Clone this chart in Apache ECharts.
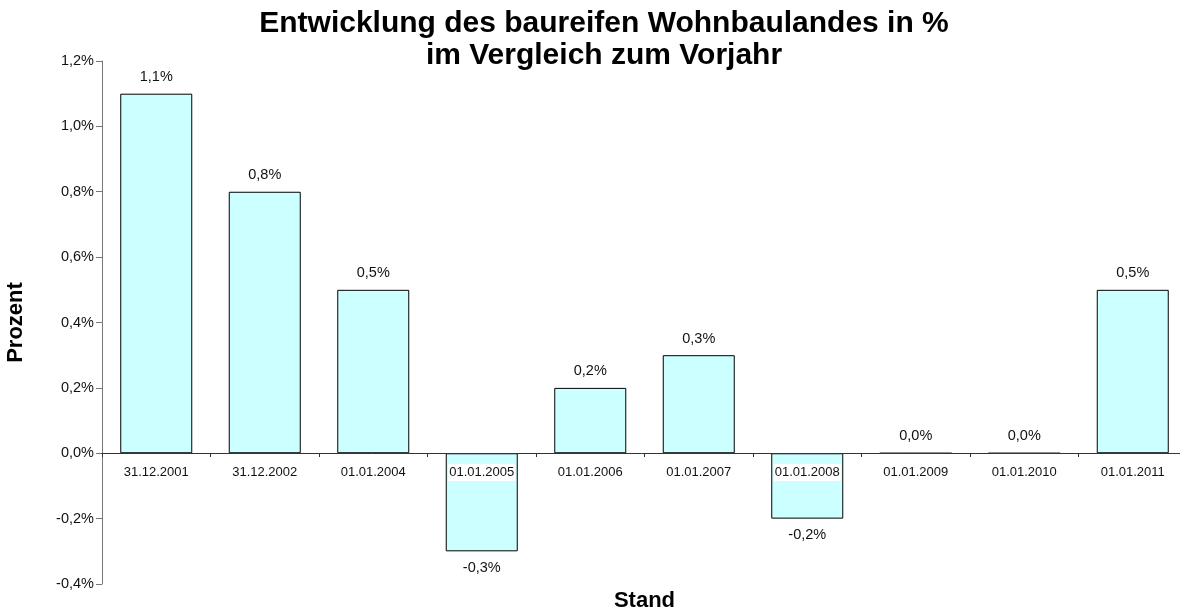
<!DOCTYPE html>
<html>
<head>
<meta charset="utf-8">
<script src="https://cdn.jsdelivr.net/npm/echarts@6/dist/echarts.min.js"></script>
<style>
  html, body { margin: 0; padding: 0; background: #fff; }
  #main { width: 1180px; height: 613px; }
</style>
</head>
<body>
<div id="main"></div>
<script>
var stand = ['31.12.2001', '31.12.2002', '01.01.2004', '01.01.2005', '01.01.2006',
             '01.01.2007', '01.01.2008', '01.01.2009', '01.01.2010', '01.01.2011'];
var prozent = [1.1, 0.8, 0.5, -0.3, 0.2, 0.3, -0.2, 0.0, 0.0, 0.5];

var fontFam = '"Liberation Sans", Arial, Helvetica, sans-serif';

function pct(v) {
    return v.toFixed(1).replace('.', ',') + '%';
}

// labels sit above bars >= 0 and below negative ones
var barData = prozent.map(function (v) {
    return { value: v, label: { position: v < 0 ? 'bottom' : 'top' } };
});

var option = {
    backgroundColor: '#fff',
    animation: false,
    textStyle: { fontFamily: fontFam },
    title: {
        text: 'Entwicklung des baureifen Wohnbaulandes in %\nim Vergleich zum Vorjahr',
        left: 599,
        top: 3,
        textAlign: 'center',
        textStyle: {
            fontFamily: fontFam,
            fontSize: 30,
            fontWeight: 'bold',
            color: '#000',
            lineHeight: 32
        }
    },
    grid: {
        left: 102,
        top: 61,
        bottom: 29,
        width: 1085,
        outerBoundsMode: 'none',
        containLabel: false
    },
    xAxis: {
        type: 'category',
        data: stand,
        z: 5,
        // lift the whole axis (line, labels, name) from the grid bottom to the 0 line
        offset: -131,
        name: 'Stand',
        nameLocation: 'middle',
        nameGap: 137,
        nameTextStyle: { fontFamily: fontFam, fontSize: 22, fontWeight: 'bold', color: '#000' },
        axisLine: { onZero: false, lineStyle: { color: '#333', width: 1 } },
        axisTick: { show: true, length: 4, lineStyle: { color: '#333' } },
        axisLabel: {
            fontSize: 13,
            color: '#111',
            margin: 11,
            backgroundColor: '#fff',
            padding: [2, 1, 2, 1],
            interval: 0
        },
        splitLine: { show: false }
    },
    yAxis: {
        type: 'value',
        min: -0.4,
        max: 1.2,
        interval: 0.2,
        name: 'Prozent',
        nameLocation: 'middle',
        nameGap: 75,
        nameTextStyle: { fontFamily: fontFam, fontSize: 22, fontWeight: 'bold', color: '#000' },
        axisLine: { show: true, lineStyle: { color: '#777', width: 1 } },
        axisTick: { show: true, length: 6, lineStyle: { color: '#777' } },
        axisLabel: {
            fontSize: 14.5,
            color: '#111',
            margin: 8,
            formatter: pct
        },
        splitLine: { show: false }
    },
    series: [
        {
            name: 'Prozent',
            type: 'bar',
            data: barData,
            barWidth: 72,
            itemStyle: {
                color: '#ccffff',
                borderColor: '#000',
                borderWidth: 1
            },
            label: {
                show: true,
                distance: 9,
                fontSize: 14.5,
                color: '#111',
                formatter: function (p) { return pct(p.value); }
            }
        }
    ]
};

echarts.init(document.getElementById('main')).setOption(option);
</script>
</body>
</html>
